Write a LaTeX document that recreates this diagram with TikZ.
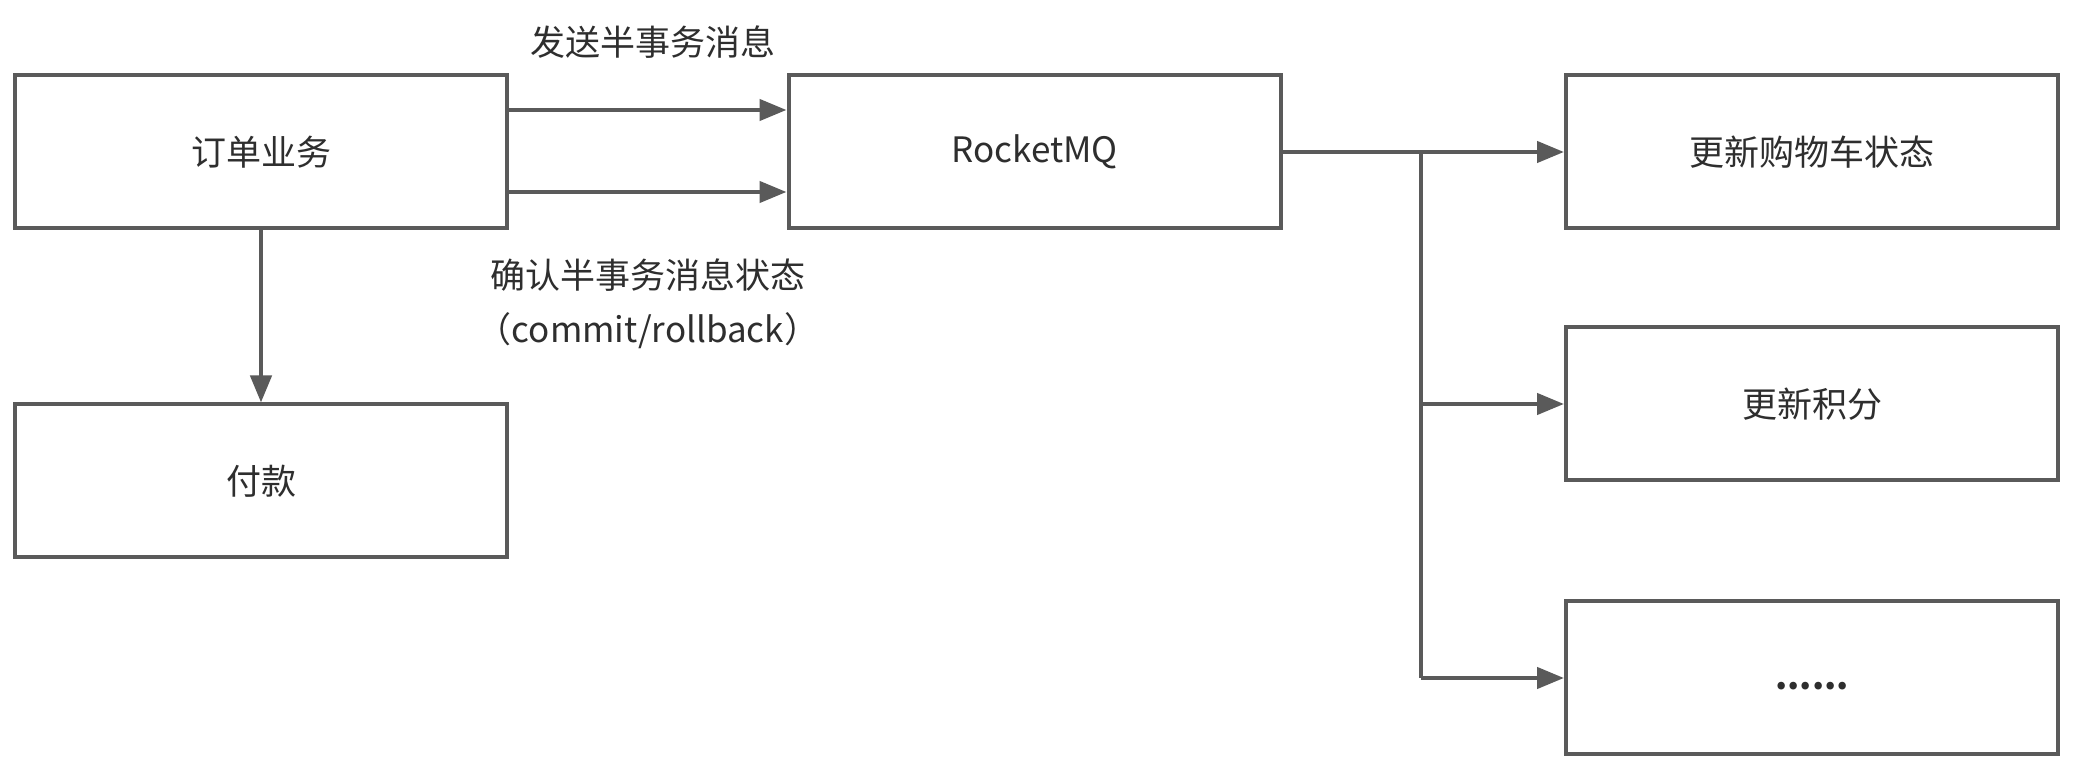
\documentclass[tikz,border=0pt]{standalone}
\usepackage{fontspec}
\setmainfont{Noto Sans CJK SC}
\usetikzlibrary{arrows.meta}
\definecolor{ln}{HTML}{5A5A5A}
\definecolor{tx}{HTML}{2E2E2E}
\begin{document}
\begin{tikzpicture}[x=0.5pt,y=-0.5pt,
  box/.style={draw=ln, line width=2pt, minimum width=246pt, minimum height=76.5pt, inner sep=0pt, text=tx, font=\fontsize{17.5pt}{21pt}\selectfont},
  conn/.style={draw=ln, line width=2.2pt, -{Triangle[length=13.5pt,width=10.5pt]}},
  plain/.style={draw=ln, line width=2.2pt},
  lbl/.style={text=tx, inner sep=0pt, font=\fontsize{17.5pt}{21pt}\selectfont}]
\useasboundingbox[fill=white] (0,0) rectangle (2074,758);
\node[box] (order) at (261,152) {订单业务};
\node[box] (mq) at (1034.5,152) {RocketMQ};
\node[box] (pay) at (261,481) {付款};
\node[box] (cart) at (1812,152) {更新购物车状态};
\node[box] (points) at (1812,404) {更新积分};
\node[box] (more) at (1812,678) {\smash{\raisebox{-6pt}{\bfseries ......}}};
\node[lbl] (l1) at (653,42) {发送半事务消息};
\node[lbl] (l2) at (648,275) {确认半事务消息状态};
\node[lbl] (l3) at (648,331) {（commit/rollback）};
\draw[conn] (order.east |- {(0,110)}) -- (mq.west |- {(0,110)});
\draw[conn] (order.east |- {(0,192)}) -- (mq.west |- {(0,192)});
\draw[conn] (order.south) -- (pay.north);
\coordinate (j1) at (1421,152);
\coordinate (j2) at (1421,404);
\coordinate (j3) at (1421,678);
\draw[conn] (mq.east) -- (cart.west);
\draw[plain] (j1) -- (j3);
\draw[conn] (j2) -- (points.west);
\draw[conn] (j3) -- (more.west);
\end{tikzpicture}
\end{document}
